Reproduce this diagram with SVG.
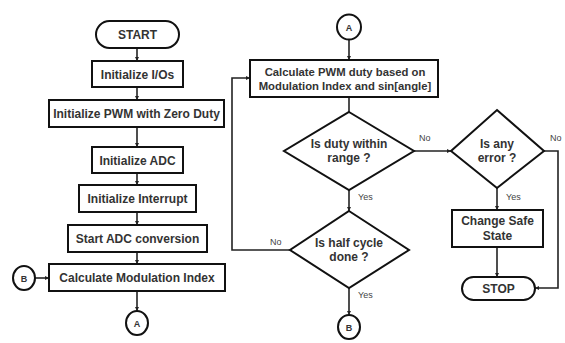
<svg xmlns="http://www.w3.org/2000/svg" width="565" height="343" viewBox="0 0 565 343">
  <defs>
    <marker id="arr" viewBox="0 0 6 6" refX="6" refY="3" markerWidth="4" markerHeight="4" orient="auto" markerUnits="userSpaceOnUse">
      <path d="M0,0 L6,3 L0,6 Z" fill="#222"/>
    </marker>
    <style>
      .box { fill: #fff; stroke: #111; stroke-width: 2; }
      .t { font-family: "Liberation Sans", Arial, sans-serif; font-weight: bold; font-size: 12px; fill: #333; text-anchor: middle; }
      .sm { font-size: 11.3px; }
      .cl { font-size: 9px; }
      .lbl { font-family: "Liberation Sans", Arial, sans-serif; font-size: 9px; fill: #444; }
      .c { fill: none; stroke: #222; stroke-width: 1.6; }
      .ca { fill: none; stroke: #222; stroke-width: 1.6; marker-end: url(#arr); }
    </style>
  </defs>
  <rect width="565" height="343" fill="#fff"/>

  <!-- connectors -->
  <g id="connectors">
    <line class="ca" x1="137" y1="48" x2="137" y2="61"/>
    <line class="ca" x1="137" y1="87" x2="137" y2="100"/>
    <line class="ca" x1="137" y1="127" x2="137" y2="147"/>
    <line class="ca" x1="137" y1="173" x2="137" y2="185"/>
    <line class="ca" x1="137" y1="212" x2="137" y2="225"/>
    <line class="ca" x1="137" y1="252" x2="137" y2="264"/>
    <line class="ca" x1="35" y1="278" x2="49" y2="278"/>
    <line class="ca" x1="137" y1="291" x2="137" y2="311"/>
    <line class="ca" x1="349" y1="39" x2="349" y2="60"/>
    <line class="c" x1="349" y1="97" x2="349" y2="112"/>
    <line class="ca" x1="349" y1="190" x2="349" y2="211"/>
    <polyline class="ca" points="290,250 232,250 232,78 250,78"/>
    <line class="ca" x1="349" y1="288" x2="349" y2="315"/>
    <line class="ca" x1="414" y1="151" x2="451" y2="151"/>
    <line class="ca" x1="497" y1="188" x2="497" y2="210"/>
    <line class="ca" x1="497" y1="247" x2="497" y2="277"/>
    <polyline class="ca" points="544,151 558,151 558,288 535,288"/>
    <text class="lbl" x="358" y="200">Yes</text>
    <text class="lbl" x="270" y="245">No</text>
    <text class="lbl" x="358" y="298">Yes</text>
    <text class="lbl" x="419" y="141">No</text>
    <text class="lbl" x="550" y="141">No</text>
    <text class="lbl" x="506" y="200">Yes</text>
  </g>

  <g id="start">
    <rect class="box" x="96" y="21" width="83" height="27" rx="13.5"/>
    <text class="t" x="137.5" y="39">START</text>
  </g>
  <g id="init-io">
    <rect class="box" x="92" y="61" width="91" height="26"/>
    <text class="t" x="137.5" y="78.5">Initialize I/Os</text>
  </g>
  <g id="init-pwm">
    <rect class="box" x="49" y="100" width="175" height="27"/>
    <text class="t" x="136.5" y="118">Initialize PWM with Zero Duty</text>
  </g>
  <g id="init-adc">
    <rect class="box" x="92" y="147" width="91" height="26"/>
    <text class="t" x="137.5" y="164.5">Initialize ADC</text>
  </g>
  <g id="init-int">
    <rect class="box" x="79" y="185" width="117" height="27"/>
    <text class="t" x="137.5" y="203">Initialize Interrupt</text>
  </g>
  <g id="start-adc">
    <rect class="box" x="68" y="225" width="139" height="27"/>
    <text class="t" x="137.5" y="243">Start ADC conversion</text>
  </g>
  <g id="calc-mi">
    <rect class="box" x="49" y="264" width="176" height="27"/>
    <text class="t" x="137" y="282">Calculate Modulation Index</text>
  </g>
  <g id="conn-b-left">
    <ellipse class="box" cx="24" cy="278" rx="11" ry="12"/>
    <text class="t cl" x="24" y="281.5">B</text>
  </g>
  <g id="conn-a-left">
    <ellipse class="box" cx="137" cy="323" rx="11" ry="12"/>
    <text class="t cl" x="137" y="326.5">A</text>
  </g>

  <g id="conn-a-right">
    <ellipse class="box" cx="349" cy="27" rx="12" ry="12.5"/>
    <text class="t cl" x="349" y="30.5">A</text>
  </g>
  <g id="calc-duty">
    <rect class="box" x="250" y="60" width="188" height="37"/>
    <text class="t sm" x="345" y="75.5">Calculate PWM duty based on</text>
    <text class="t sm" x="345" y="90">Modulation Index and sin[angle]</text>
  </g>
  <g id="dec-range">
    <polygon class="box" points="349,112 414,151 349,190 284,151"/>
    <text class="t" x="349" y="148">Is duty within</text>
    <text class="t" x="349" y="162">range ?</text>
  </g>
  <g id="dec-half">
    <polygon class="box" points="349,211 409,250 349,288 290,250"/>
    <text class="t" x="349" y="247">Is half cycle</text>
    <text class="t" x="349" y="261">done ?</text>
  </g>
  <g id="conn-b-right">
    <ellipse class="box" cx="349" cy="327" rx="11" ry="12"/>
    <text class="t cl" x="349" y="330.5">B</text>
  </g>
  <g id="dec-error">
    <polygon class="box" points="497,110 544,151 497,188 451,151"/>
    <text class="t" x="497" y="148">Is any</text>
    <text class="t" x="497" y="162">error ?</text>
  </g>
  <g id="safe-state">
    <rect class="box" x="452" y="210" width="91" height="37"/>
    <text class="t" x="497.5" y="225">Change Safe</text>
    <text class="t" x="497.5" y="240">State</text>
  </g>
  <g id="stop">
    <rect class="box" x="462" y="277" width="73" height="23" rx="11.5"/>
    <text class="t" x="498.5" y="292.5">STOP</text>
  </g>
</svg>
